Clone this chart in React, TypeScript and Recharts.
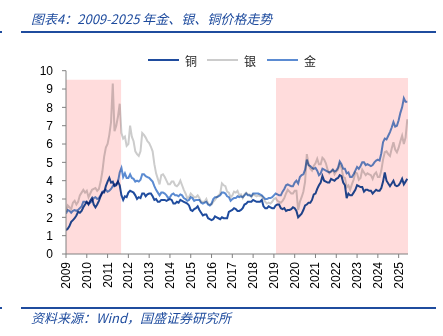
import React from 'react';
import { LineChart, Line, XAxis, YAxis, ReferenceArea } from 'recharts';

const startYear = 2009;
const yearTicks = [2009, 2010, 2011, 2012, 2013, 2014, 2015, 2016, 2017, 2018, 2019, 2020, 2021, 2022, 2023, 2024, 2025];
const valueTicks = [0, 1, 2, 3, 4, 5, 6, 7, 8, 9, 10];

// monthly values, Jan 2009 – Jun 2025
const copper = [
  1.30, 1.38, 1.52, 1.75, 1.85, 1.95, 2.10, 2.30, 2.25, 2.35, 2.55, 2.70,
  2.85, 2.70, 2.90, 3.05, 2.70, 2.55, 2.70, 2.90, 3.15, 3.35, 3.35, 3.70,
  3.95, 4.15, 3.90, 3.95, 3.70, 3.75, 3.95, 3.75, 3.20, 2.95, 3.15, 3.10,
  3.35, 3.45, 3.40, 3.35, 3.20, 3.00, 3.10, 3.05, 3.30, 3.30, 3.15, 3.25,
  3.30, 3.30, 3.15, 2.95, 3.00, 2.85, 2.85, 2.95, 2.95, 2.95, 2.90, 2.95,
  3.00, 2.95, 2.75, 2.75, 2.85, 2.80, 2.95, 2.90, 2.85, 2.80, 2.75, 2.65,
  2.40, 2.35, 2.45, 2.50, 2.60, 2.40, 2.25, 2.10, 2.15, 2.15, 1.95, 1.90,
  1.85, 1.90, 2.05, 2.00, 1.95, 1.90, 2.00, 1.95, 1.95, 1.95, 2.30, 2.35,
  2.40, 2.50, 2.45, 2.35, 2.35, 2.40, 2.50, 2.70, 2.75, 2.85, 2.85, 2.85,
  2.95, 2.90, 2.85, 2.85, 2.85, 2.95, 2.60, 2.50, 2.50, 2.60, 2.55, 2.50,
  2.50, 2.65, 2.70, 2.70, 2.50, 2.45, 2.50, 2.35, 2.40, 2.40, 2.45, 2.55,
  2.50, 2.35, 2.00, 2.10, 2.20, 2.40, 2.65, 2.70, 2.80, 2.80, 2.95, 3.25,
  3.30, 3.55, 3.75, 3.90, 4.25, 4.00, 3.95, 3.90, 3.90, 4.10, 4.05, 4.00,
  4.10, 4.15, 4.30, 4.25, 3.90, 3.75, 3.05, 3.30, 3.20, 3.20, 3.35, 3.50,
  3.75, 3.70, 3.65, 3.65, 3.40, 3.50, 3.50, 3.45, 3.45, 3.30, 3.40, 3.50,
  3.45, 3.45, 3.60, 3.95, 4.45, 4.00, 3.85, 3.70, 3.85, 4.00, 3.75, 3.70,
  3.75, 3.90, 4.10, 3.80, 3.95, 4.10,
];

const silver = [
  2.30, 2.65, 2.55, 2.45, 2.80, 2.90, 2.70, 2.85, 3.20, 3.35, 3.50, 3.35,
  3.45, 3.10, 3.30, 3.50, 3.55, 3.60, 3.45, 3.55, 3.95, 4.50, 5.30, 5.80,
  6.00, 6.50, 7.20, 9.30, 6.70, 7.00, 7.50, 8.20, 6.60, 6.30, 6.40, 5.90,
  6.00, 7.00, 6.40, 6.15, 5.60, 5.45, 5.35, 5.60, 6.60, 6.50, 6.35, 6.15,
  6.05, 5.85, 5.60, 4.90, 4.40, 4.10, 3.80, 4.30, 4.35, 4.20, 4.00, 3.80,
  3.80, 3.95, 3.95, 3.75, 3.70, 3.80, 4.00, 3.75, 3.50, 3.30, 3.05, 3.10,
  3.30, 3.20, 3.10, 3.10, 3.20, 3.05, 2.85, 2.85, 2.85, 3.00, 2.75, 2.70,
  2.70, 2.85, 2.95, 3.10, 3.20, 3.30, 3.85, 3.75, 3.70, 3.40, 3.35, 3.10,
  3.20, 3.40, 3.35, 3.45, 3.20, 3.25, 3.05, 3.25, 3.35, 3.25, 3.25, 3.10,
  3.25, 3.20, 3.15, 3.20, 3.15, 3.15, 3.00, 2.85, 2.75, 2.80, 2.75, 2.85,
  3.00, 3.05, 2.90, 2.85, 2.80, 2.90, 3.05, 3.30, 3.50, 3.40, 3.30, 3.30,
  3.45, 3.45, 2.40, 2.85, 3.10, 3.40, 3.95, 5.45, 4.90, 4.65, 4.55, 4.80,
  4.95, 5.20, 4.90, 4.90, 5.25, 5.15, 4.95, 4.60, 4.40, 4.50, 4.60, 4.35,
  4.50, 4.60, 4.90, 4.70, 4.20, 4.15, 3.65, 3.75, 3.50, 3.80, 4.05, 4.45,
  4.40, 4.05, 4.15, 4.60, 4.45, 4.30, 4.40, 4.35, 4.30, 4.10, 4.35, 4.45,
  4.20, 4.20, 4.55, 5.15, 5.55, 5.60, 5.45, 5.35, 5.75, 6.10, 5.70, 5.55,
  5.80, 6.15, 6.45, 6.00, 6.35, 7.35,
];

const gold = [
  2.20, 2.40, 2.35, 2.25, 2.35, 2.40, 2.35, 2.40, 2.50, 2.60, 2.85, 2.85,
  2.80, 2.75, 2.80, 2.90, 3.05, 3.10, 3.00, 3.05, 3.20, 3.40, 3.45, 3.50,
  3.40, 3.45, 3.55, 3.70, 3.80, 3.80, 3.95, 4.45, 4.70, 4.20, 4.40, 4.15,
  4.15, 4.35, 4.15, 4.10, 3.95, 4.00, 3.95, 4.05, 4.35, 4.35, 4.25, 4.20,
  4.15, 4.05, 3.95, 3.70, 3.50, 3.35, 3.20, 3.35, 3.35, 3.30, 3.20, 3.05,
  3.10, 3.25, 3.30, 3.20, 3.20, 3.15, 3.25, 3.20, 3.05, 3.00, 2.90, 2.95,
  3.10, 3.05, 2.90, 2.95, 2.95, 2.95, 2.80, 2.75, 2.80, 2.85, 2.70, 2.65,
  2.75, 3.00, 3.10, 3.10, 3.15, 3.20, 3.35, 3.35, 3.30, 3.15, 3.10, 2.90,
  3.00, 3.05, 3.05, 3.15, 3.10, 3.15, 3.10, 3.20, 3.30, 3.20, 3.20, 3.15,
  3.30, 3.30, 3.30, 3.30, 3.25, 3.20, 3.10, 3.00, 3.00, 3.05, 3.05, 3.10,
  3.20, 3.30, 3.25, 3.20, 3.20, 3.40, 3.55, 3.75, 3.80, 3.75, 3.70, 3.70,
  3.90, 4.00, 3.85, 4.20, 4.30, 4.35, 4.60, 5.15, 4.85, 4.80, 4.70, 4.65,
  4.70, 4.55, 4.30, 4.40, 4.65, 4.60, 4.55, 4.50, 4.45, 4.50, 4.60, 4.50,
  4.55, 4.70, 5.05, 4.90, 4.65, 4.65, 4.40, 4.45, 4.20, 4.20, 4.35, 4.55,
  4.75, 4.65, 4.80, 5.00, 5.00, 4.85, 4.90, 4.85, 4.80, 4.85, 5.00, 5.10,
  5.15, 5.10, 5.50, 6.10, 6.30, 6.25, 6.45, 6.65, 6.90, 7.20, 6.95, 7.00,
  7.30, 7.70, 8.00, 8.50, 8.30, 8.30,
];

const shadedPeriods = [
  { from: 2009, to: 2011.65, top: 9.5 },
  { from: 2019.1, to: 2025.45, top: 9.6 },
];

const seriesNames = { copper: '铜', silver: '银', gold: '金' };
const colors = { copper: '#1f4c9e', silver: '#cccccc', gold: '#5b8bd2' };

const data = copper.map((c, i) => ({
  t: startYear + i / 12,
  copper: c,
  silver: silver[i],
  gold: gold[i],
}));

const axisFont = 'Liberation Sans, Arial, sans-serif';
const cjkFont = '"Noto Sans CJK SC", sans-serif';

const XTick = (props: any) => {
  const { x, y, payload } = props;
  return (
    <text
      x={0}
      y={0}
      transform={`translate(${x},${y}) rotate(-90)`}
      textAnchor="end"
      dominantBaseline="central"
      fontSize={12}
      fill="#000"
      fontFamily={axisFont}
    >
      {payload.value}
    </text>
  );
};

const legendOrder: Array<'copper' | 'silver' | 'gold'> = ['copper', 'silver', 'gold'];
const legendLeft = [148, 207, 267];

export default function App() {
  return (
    <div style={{ position: 'absolute', left: 0, top: 0, width: 443, height: 336, background: '#fff', overflow: 'hidden' }}>
      <style>{`.price-line .recharts-line-curve { mix-blend-mode: multiply; }`}</style>
      <div
        style={{
          position: 'absolute', left: 31, top: 9, fontSize: 13, lineHeight: '20px',
          fontStyle: 'italic', color: '#1f4c9e', fontFamily: cjkFont, whiteSpace: 'nowrap',
        }}
      >
        图表4：2009-2025 年金、银、铜价格走势
      </div>
      <div style={{ position: 'absolute', left: 21, top: 31, width: 415, height: 2, background: '#1f4c9e' }} />
      <div style={{ position: 'absolute', left: 0, top: 31, width: 2, height: 2, background: '#1f4c9e' }} />

      {legendOrder.map((k, i) => (
        <div key={k} style={{ position: 'absolute', left: legendLeft[i], top: 51, height: 18, display: 'flex', alignItems: 'center' }}>
          <div style={{ width: 31, height: 2, background: colors[k] }} />
          <span style={{ marginLeft: 6, fontSize: 12, fontFamily: cjkFont, color: '#222' }}>{seriesNames[k]}</span>
        </div>
      ))}

      <div style={{ position: 'absolute', left: 0, top: 0 }}>
        <LineChart width={443} height={336} data={data} margin={{ top: 70.7, right: 35, bottom: 42, left: 0 }}>
          {shadedPeriods.map((p, i) => (
            <ReferenceArea key={i} x1={p.from} x2={p.to} y1={0} y2={p.top} fill="#ffdcdc" fillOpacity={1} stroke="none" ifOverflow="visible" />
          ))}
          <XAxis
            type="number"
            dataKey="t"
            domain={[2009, 2025.45]}
            ticks={yearTicks}
            interval={0}
            height={40}
            tickSize={4}
            tickMargin={4}
            tick={<XTick />}
            stroke="#808080"
            allowDataOverflow
          />
          <YAxis
            type="number"
            domain={[0, 10]}
            ticks={valueTicks}
            interval={0}
            width={66}
            tickSize={4}
            tickMargin={9}
            stroke="#808080"
            tick={{ fontSize: 12, fill: '#000', fontFamily: axisFont }}
          />
          <Line className="price-line" type="linear" dataKey="copper" stroke={colors.copper} strokeWidth={2} dot={false} isAnimationActive={false} />
          <Line className="price-line" type="linear" dataKey="silver" stroke={colors.silver} strokeWidth={2} dot={false} isAnimationActive={false} />
          <Line className="price-line" type="linear" dataKey="gold" stroke={colors.gold} strokeWidth={2} dot={false} isAnimationActive={false} />
        </LineChart>
      </div>

      <div style={{ position: 'absolute', left: 21, top: 307, width: 415, height: 2, background: '#1f4c9e' }} />
      <div style={{ position: 'absolute', left: 0, top: 307, width: 2, height: 2, background: '#1f4c9e' }} />
      <div
        style={{
          position: 'absolute', left: 31, top: 309, fontSize: 13, lineHeight: '18px',
          fontStyle: 'italic', color: '#1f4c9e', fontFamily: cjkFont, whiteSpace: 'nowrap',
        }}
      >
        资料来源：Wind，国盛证券研究所
      </div>
    </div>
  );
}
